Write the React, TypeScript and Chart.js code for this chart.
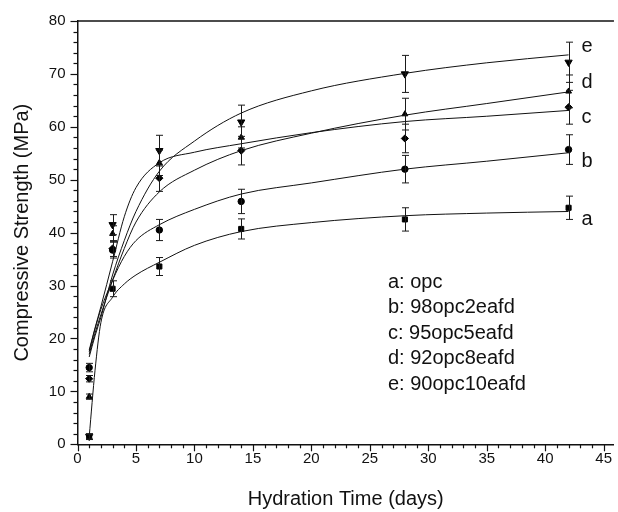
import React, { useEffect, useRef } from 'react';
import { Chart, registerables } from 'chart.js';

Chart.register(...registerables);

// ---- data ----
const days = [1, 3, 7, 14, 28, 42];
const aValues = [1.4, 29.4, 33.6, 40.7, 42.5, 44.7];
const bValues = [14.5, 36.7, 40.5, 45.9, 52.0, 55.7];
const cValues = [12.4, 37.0, 50.3, 55.5, 57.8, 63.7];
const dValues = [9.0, 39.8, 53.2, 58.0, 62.4, 66.7];
const eValues = [1.5, 41.5, 55.5, 60.9, 70.0, 72.2];
const aErrors = [0.5, 1.5, 1.7, 1.9, 2.2, 2.2];
const bErrors = [0.8, 1.5, 2.0, 2.3, 2.6, 2.8];
const cErrors = [0.6, 1.5, 2.5, 2.7, 2.7, 3.2];
const dErrors = [0.5, 1.5, 2.4, 2.0, 3.0, 3.1];
const eErrors = [0.5, 1.9, 2.9, 3.2, 3.5, 3.8];

// fitted curves at these days
const fitDays = [1, 1.5, 2, 3, 4, 5, 7, 10, 14, 20, 28, 35, 42];
const aFit = [1.4, 14.0, 23.0, 27.8, 30.3, 32.0, 34.4, 37.6, 40.2, 41.9, 43.2, 43.7, 44.0];
const bFit = [17.5, 21.8, 25.5, 31.0, 35.5, 38.5, 41.5, 44.4, 47.3, 49.4, 52.0, 53.5, 55.1];
const cFit = [17.8, 22.0, 26.0, 34.5, 43.0, 48.5, 53.2, 55.2, 56.8, 58.9, 61.0, 62.0, 63.1];
const dFit = [17.0, 21.0, 24.5, 31.0, 37.0, 42.0, 47.7, 51.8, 55.5, 58.8, 62.2, 64.4, 66.6];
const eFit = [16.5, 20.5, 24.0, 32.0, 38.5, 44.0, 51.6, 57.3, 62.6, 66.8, 70.1, 72.1, 73.6];

const seriesTags = ['a', 'b', 'c', 'd', 'e'];
const tagDay = 43.1;
const tagValues = [42.5, 53.5, 61.7, 68.4, 75.2];
const legendLines = ['a: opc', 'b: 98opc2eafd', 'c: 95opc5eafd', 'd: 92opc8eafd', 'e: 90opc10eafd'];

const xTickValues = [0, 5, 10, 15, 20, 25, 30, 35, 40, 45];
const yTickValues = [0, 10, 20, 30, 40, 50, 60, 70, 80];
const xMinorStep = 1;
const yMinorStep = 2;

const pointSeries = [aValues, bValues, cValues, dValues, eValues];
const errorSeries = [aErrors, bErrors, cErrors, dErrors, eErrors];
const fitSeries = [aFit, bFit, cFit, dFit, eFit];

const FONT = "'Liberation Sans', Arial, Helvetica, sans-serif";
const INK = '#111';

const pointStyles: any[] = ['rect', 'circle', 'rectRot', 'triangle', 'triangle'];
const pointRadii = [3.6, 3.2, 3.6, 3.4, 4.2];
const pointRotations = [0, 0, 0, 0, 180];

const decorPlugin = {
  id: 'decor',
  afterDatasetsDraw(chart: any) {
    const { ctx, chartArea, scales } = chart;
    const x = scales.x;
    const y = scales.y;
    ctx.save();
    // error bars
    ctx.strokeStyle = '#1a1a1a';
    ctx.lineWidth = 1;
    pointSeries.forEach((vals, si) => {
      const errs = errorSeries[si];
      days.forEach((d, i) => {
        const px = Math.round(x.getPixelForValue(d)) + 0.5;
        const top = y.getPixelForValue(vals[i] + errs[i]);
        const bot = y.getPixelForValue(vals[i] - errs[i]);
        ctx.beginPath();
        ctx.moveTo(px, top);
        ctx.lineTo(px, bot);
        ctx.moveTo(px - 3.5, top);
        ctx.lineTo(px + 3.5, top);
        ctx.moveTo(px - 3.5, bot);
        ctx.lineTo(px + 3.5, bot);
        ctx.stroke();
      });
    });
    // series tags
    ctx.fillStyle = INK;
    ctx.font = `20px ${FONT}`;
    ctx.textAlign = 'left';
    ctx.textBaseline = 'middle';
    seriesTags.forEach((t, i) => {
      ctx.fillText(t, x.getPixelForValue(tagDay), y.getPixelForValue(tagValues[i]));
    });
    // text legend
    legendLines.forEach((t, i) => {
      ctx.fillText(t, 388, 282 + i * 25.5);
    });
    ctx.restore();
  },
  afterDraw(chart: any) {
    const { ctx, chartArea, scales } = chart;
    const x = scales.x;
    const y = scales.y;
    ctx.save();
    ctx.strokeStyle = INK;
    // top frame line
    ctx.lineWidth = 1.5;
    ctx.beginPath();
    ctx.moveTo(chartArea.left, chartArea.top);
    ctx.lineTo(chartArea.right, chartArea.top);
    ctx.stroke();
    ctx.lineWidth = 1.2;
    // x ticks
    for (let v = 0; v <= xTickValues[xTickValues.length - 1]; v += xMinorStep) {
      const major = xTickValues.includes(v);
      const px = Math.round(x.getPixelForValue(v)) + 0.5;
      ctx.beginPath();
      ctx.moveTo(px, chartArea.bottom);
      ctx.lineTo(px, chartArea.bottom + (major ? 7 : 4));
      ctx.stroke();
    }
    // y ticks
    for (let v = 0; v <= yTickValues[yTickValues.length - 1]; v += yMinorStep) {
      const major = yTickValues.includes(v);
      const py = Math.round(y.getPixelForValue(v)) + 0.5;
      ctx.beginPath();
      ctx.moveTo(chartArea.left, py);
      ctx.lineTo(chartArea.left - (major ? 7 : 4), py);
      ctx.stroke();
    }
    ctx.restore();
  },
};

export default function App() {
  const canvasRef = useRef<HTMLCanvasElement | null>(null);

  useEffect(() => {
    const canvas = canvasRef.current;
    if (!canvas) return;

    const datasets: any[] = [];
    fitSeries.forEach((fit, si) => {
      datasets.push({
        type: 'line',
        label: seriesTags[si] + ' fit',
        data: fitDays.map((d, i) => ({ x: d, y: fit[i] })),
        borderColor: INK,
        borderWidth: 1,
        pointRadius: 0,
        fill: false,
        cubicInterpolationMode: 'monotone',
      });
    });
    pointSeries.forEach((vals, si) => {
      datasets.push({
        type: 'scatter',
        label: seriesTags[si],
        data: days.map((d, i) => ({ x: d, y: vals[i] })),
        pointStyle: pointStyles[si],
        pointRadius: pointRadii[si],
        pointRotation: pointRotations[si],
        backgroundColor: '#000',
        borderColor: '#000',
        borderWidth: 1,
        showLine: false,
      });
    });

    const chart = new Chart(canvas, {
      type: 'scatter',
      data: { datasets },
      plugins: [decorPlugin],
      options: {
        animation: false,
        responsive: false,
        maintainAspectRatio: false,
        layout: { autoPadding: false, padding: { top: 19.3, left: 0, right: 0, bottom: 0 } },
        plugins: { legend: { display: false }, tooltip: { enabled: false } },
        scales: {
          x: {
            type: 'linear',
            min: 0,
            max: 45.88,
            afterBuildTicks: (s: any) => {
              s.ticks = xTickValues.map((v) => ({ value: v }));
            },
            afterFit: (s: any) => {
              s.height = 67.7;
            },
            ticks: { font: { family: FONT, size: 15 }, color: INK, padding: 6, maxRotation: 0, autoSkip: false },
            grid: { display: true, drawOnChartArea: false, drawTicks: false },
            border: { display: true, color: INK, width: 1.5 },
            title: {
              display: true,
              text: 'Hydration Time (days)',
              color: INK,
              font: { family: FONT, size: 20 },
              padding: { top: 0, bottom: 1 },
            },
          },
          y: {
            type: 'linear',
            min: 0,
            max: 80,
            afterBuildTicks: (s: any) => {
              s.ticks = yTickValues.map((v) => ({ value: v }));
            },
            afterFit: (s: any) => {
              s.width = 77.5;
            },
            ticks: { font: { family: FONT, size: 15 }, color: INK, padding: 12, autoSkip: false },
            grid: { display: true, drawOnChartArea: false, drawTicks: false },
            border: { display: true, color: INK, width: 1.5 },
            title: {
              display: true,
              text: 'Compressive Strength (MPa)',
              color: INK,
              font: { family: FONT, size: 20 },
              padding: { top: 10, bottom: 0 },
            },
          },
        },
      } as any,
    });
    return () => chart.destroy();
  }, []);

  return (
    <div style={{ position: 'fixed', left: 0, top: 0, width: 618, height: 512, background: '#fff' }}>
      <canvas ref={canvasRef} width={618} height={512} style={{ width: 618, height: 512, display: 'block' }} />
    </div>
  );
}
